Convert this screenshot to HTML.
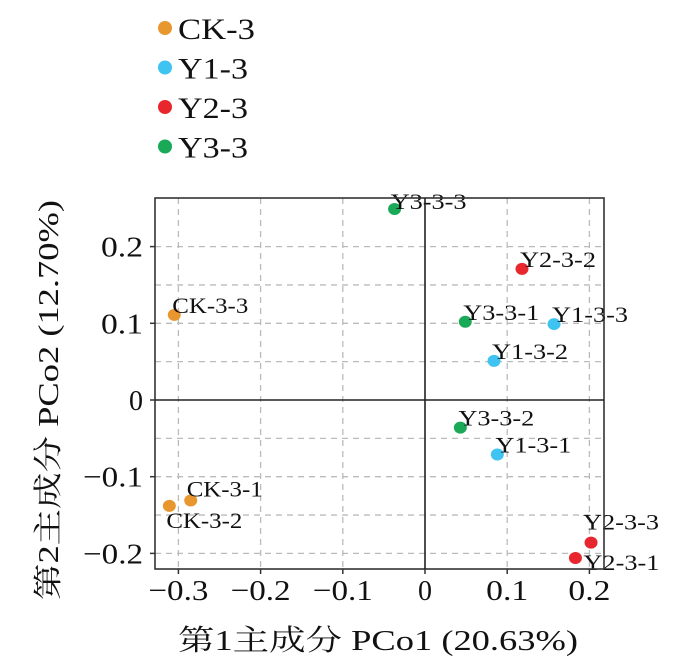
<!DOCTYPE html>
<html><head><meta charset="utf-8"><style>
body{margin:0;background:#fff;}
svg text{font-family:"Liberation Serif","Noto Serif CJK SC",serif;fill:#111;}
</style></head><body>
<svg id="chart" width="700" height="667">
<g id="grid"></g>
<g id="legend"></g>
<g id="points"></g>
<g id="axes"></g>
<text x="58" y="400" font-size="29" text-anchor="middle" textLength="400" lengthAdjust="spacingAndGlyphs" transform="rotate(-90 58 400)">第2主成分  PCo2 (12.70%)</text>
<text x="378" y="650" font-size="29" text-anchor="middle" textLength="400" lengthAdjust="spacingAndGlyphs">第1主成分  PCo1 (20.63%)</text>
</svg>
<script>
const groups=["CK-3","Y1-3","Y2-3","Y3-3"];
const colors=["#e8962e","#3fc3f0","#e8262e","#1aa957"];
const labels=["CK-3-1","CK-3-2","CK-3-3","Y1-3-1","Y1-3-2","Y1-3-3","Y2-3-1","Y2-3-2","Y2-3-3","Y3-3-1","Y3-3-2","Y3-3-3"];
const pointGroup=[0,0,0,1,1,1,2,2,2,3,3,3];
const xVals=[-0.285,-0.311,-0.305,0.088,0.084,0.157,0.183,0.118,0.202,0.049,0.043,-0.037];
const yVals=[-0.131,-0.138,0.111,-0.071,0.051,0.099,-0.206,0.171,-0.186,0.102,-0.036,0.249];
const xTicks=[-0.3,-0.2,-0.1,0,0.1,0.2];
const yTicks=[-0.2,-0.1,0,0.1,0.2];
const xTickLabels=["−0.3","−0.2","−0.1","0","0.1","0.2"];
const yTickLabels=["−0.2","−0.1","0","0.1","0.2"];
const yGrid=[-0.2,-0.15,-0.1,-0.05,0.05,0.1,0.15,0.2];
const NS="http://www.w3.org/2000/svg";
const L=155,R=604,T=198,B=569;
const sx=v=>425+v*822;
const sy=v=>400-v*767;
function mk(tag,attrs,parent,text){const e=document.createElementNS(NS,tag);for(const k in attrs)e.setAttribute(k,attrs[k]);if(text!==undefined)e.textContent=text;parent.appendChild(e);return e;}
function tickLen(s){return s==="0"?14:(s.startsWith("−")?60:42);}
const grid=document.getElementById('grid'),axes=document.getElementById('axes'),pts=document.getElementById('points'),leg=document.getElementById('legend');
xTicks.forEach(v=>{if(v!==0){const l=mk('line',{x1:sx(v),x2:sx(v),y1:T,y2:B,stroke:'#bbb','stroke-width':1.3,'stroke-dasharray':'6,5'},grid);

}});
yGrid.forEach(v=>{const l=mk('line',{x1:L,x2:R,y1:sy(v),y2:sy(v),stroke:'#bbb','stroke-width':1.3,'stroke-dasharray':'6,5'},grid);

});
const fr=mk('rect',{x:L,y:T,width:R-L,height:B-T,fill:'none',stroke:'#333','stroke-width':1.6},axes);


const z1=mk('line',{x1:sx(0),x2:sx(0),y1:T,y2:B,stroke:'#222','stroke-width':1.6},axes);


const z2=mk('line',{x1:L,x2:R,y1:sy(0),y2:sy(0),stroke:'#222','stroke-width':1.6},axes);


xTicks.forEach((v,i)=>{const t=mk('text',{x:sx(v),y:600,'font-size':29,'text-anchor':'middle',textLength:tickLen(xTickLabels[i]),lengthAdjust:'spacingAndGlyphs'},axes,xTickLabels[i]);


mk('line',{x1:sx(v),x2:sx(v),y1:B,y2:B+5,stroke:'#333','stroke-width':1.5},axes);});
yTicks.forEach((v,i)=>{const t=mk('text',{x:143,y:sy(v)+10,'font-size':29,'text-anchor':'end',textLength:tickLen(yTickLabels[i]),lengthAdjust:'spacingAndGlyphs'},axes,yTickLabels[i]);


mk('line',{x1:L-5,x2:L,y1:sy(v),y2:sy(v),stroke:'#333','stroke-width':1.5},axes);});
const off={"CK-3-1":[-4,-4,'start'],"CK-3-2":[-3,22,'start'],"Y2-3-3":[-8,-13,'start'],"Y2-3-1":[8,12,'start'],"Y3-3-3":[-4,0,'start']};
labels.forEach((lb,i)=>{const x=sx(xVals[i]),y=sy(yVals[i]);
const c=mk('ellipse',{cx:x,cy:y,rx:6.5,ry:6,fill:colors[pointGroup[i]]},pts);


const o=off[lb]||[-2,-2,'start'];
const t=mk('text',{x:x+o[0],y:y+o[1],'font-size':22,'text-anchor':o[2],textLength:76,lengthAdjust:'spacingAndGlyphs'},pts,lb);

});
groups.forEach((g,i)=>{const y=28+i*39.5;
const c=mk('circle',{cx:165,cy:y,r:7,fill:colors[i]},leg);


const t=mk('text',{x:178,y:y+11,'font-size':30,textLength:(i===0?77:70),lengthAdjust:'spacingAndGlyphs'},leg,g);

});
</script>
</body></html>
